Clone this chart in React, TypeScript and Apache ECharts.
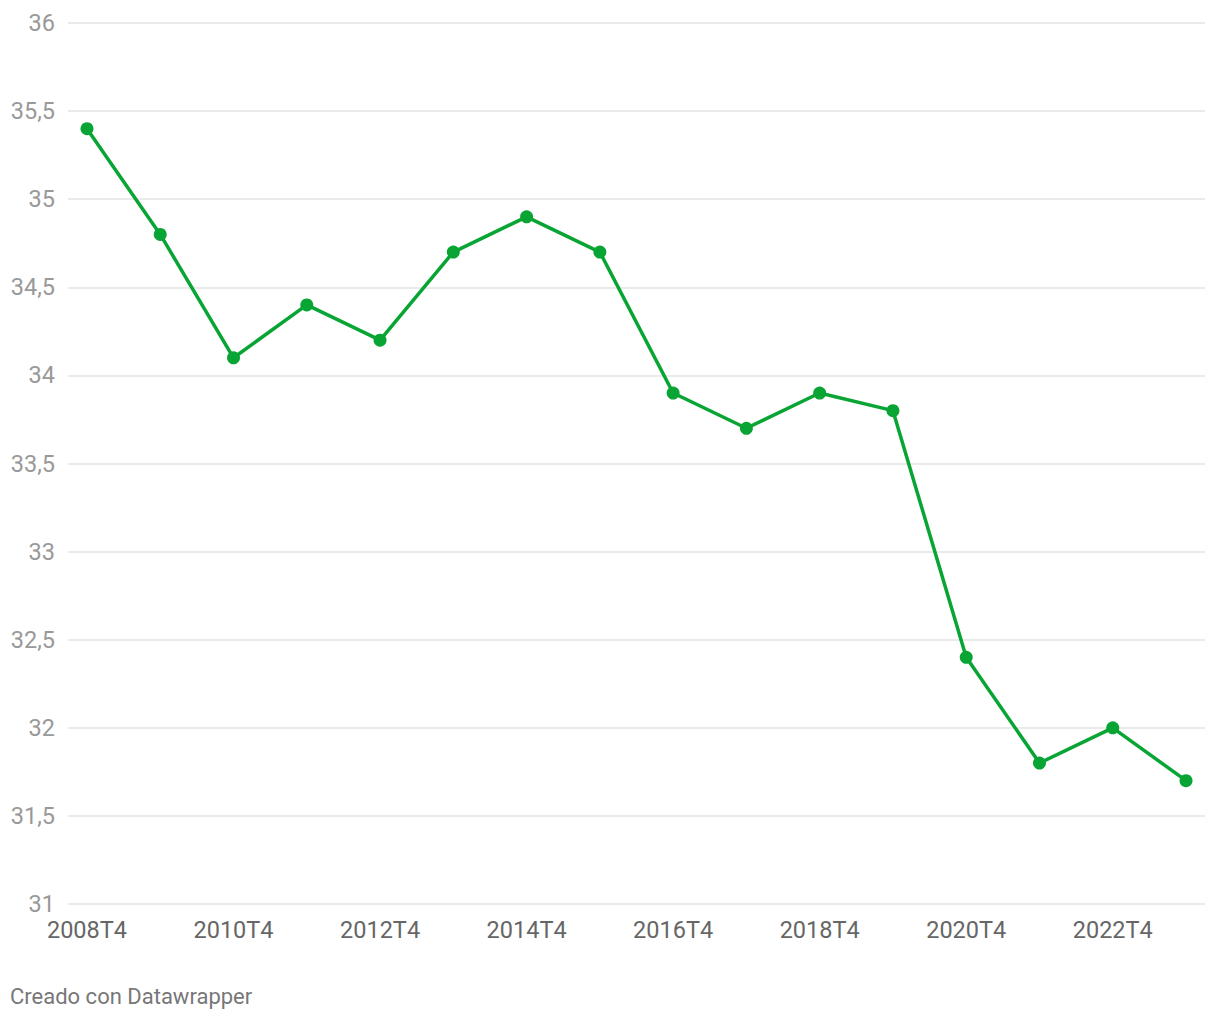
import React, { useEffect, useRef } from "react";
import * as echarts from "echarts";

const categories = [
  "2008T4", "2009T4", "2010T4", "2011T4", "2012T4", "2013T4", "2014T4", "2015T4",
  "2016T4", "2017T4", "2018T4", "2019T4", "2020T4", "2021T4", "2022T4", "2023T4",
];
const values = [35.4, 34.8, 34.1, 34.4, 34.2, 34.7, 34.9, 34.7, 33.9, 33.7, 33.9, 33.8, 32.4, 31.8, 32.0, 31.7];
const xLabelIndices = [0, 2, 4, 6, 8, 10, 12, 14];
const footer = "Creado con Datawrapper";

export default function App() {
  const ref = useRef<HTMLDivElement>(null);
  useEffect(() => {
    if (!ref.current) return;
    const chart = echarts.init(ref.current, null, { renderer: "svg" });
    const pad = 0.259;
    chart.setOption({
      animation: false,
      backgroundColor: "#ffffff",
      textStyle: { fontFamily: "Roboto" },
      grid: { left: 68, right: 15, top: 23, bottom: 116, containLabel: false },
      xAxis: {
        type: "value",
        min: -pad,
        max: categories.length - 1 + pad,
        axisLine: { show: false },
        axisTick: { show: false },
        splitLine: { show: false },
        axisLabel: {
          customValues: xLabelIndices,
          formatter: (v: number) => categories[Math.round(v)] ?? "",
          color: "#666666",
          fontSize: 23.5,
          fontFamily: "Roboto",
          margin: 14,
        },
      },
      yAxis: {
        type: "value",
        min: 31,
        max: 36,
        interval: 0.5,
        axisLine: { show: false },
        axisTick: { show: false },
        splitLine: { lineStyle: { color: "#e3e3e3", width: 1.5 } },
        axisLabel: {
          formatter: (v: number) => String(v).replace(".", ","),
          color: "#999999",
          fontSize: 23.5,
          fontFamily: "Roboto",
          margin: 13,
        },
      },
      series: [
        {
          type: "line",
          data: values.map((v, i) => [i, v]),
          symbol: "circle",
          symbolSize: 13,
          lineStyle: { color: "#09a534", width: 3.5 },
          itemStyle: { color: "#09a534" },
        },
      ],
      graphic: [
        {
          type: "text",
          left: 10,
          top: 985,
          style: { text: footer, fill: "#777777", fontSize: 22, fontFamily: "Roboto" },
        },
      ],
    });
    return () => chart.dispose();
  }, []);
  return (
    <div
      ref={ref}
      style={{ position: "fixed", left: 0, top: 0, width: 1220, height: 1020 }}
    />
  );
}
